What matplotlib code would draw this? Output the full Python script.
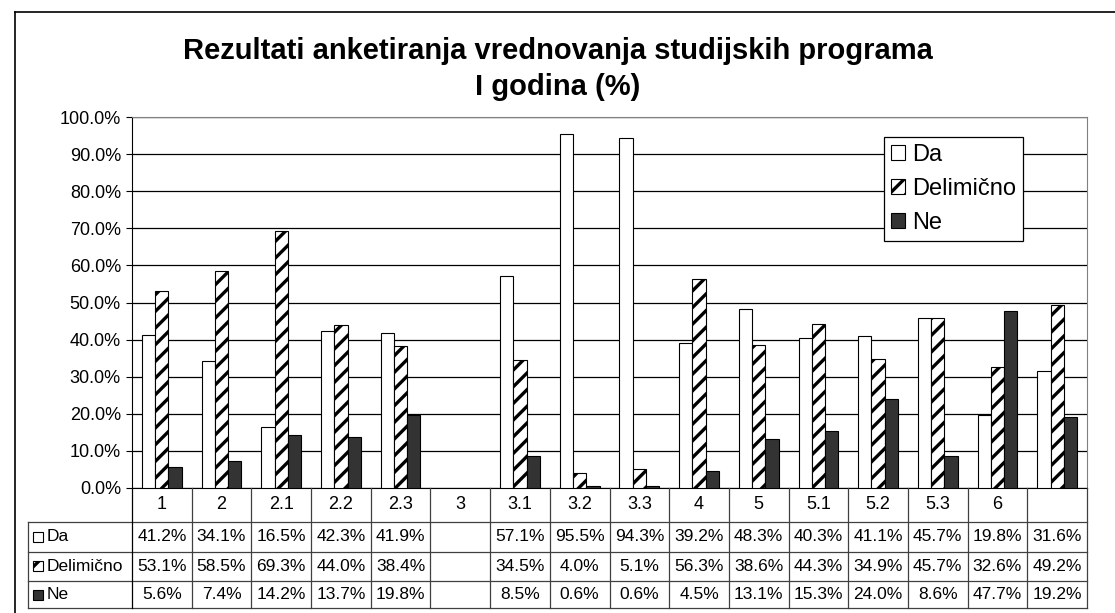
import matplotlib.pyplot as plt
import numpy as np
from matplotlib.patches import Rectangle
from matplotlib.lines import Line2D
from matplotlib.ticker import FuncFormatter

plt.rcParams['font.family'] = ['Liberation Sans', 'DejaVu Sans']
plt.rcParams['hatch.linewidth'] = 2.4

title = 'Rezultati anketiranja vrednovanja studijskih programa\nI godina (%)'
categories = ['1', '2', '2.1', '2.2', '2.3', '3', '3.1', '3.2', '3.3',
              '4', '5', '5.1', '5.2', '5.3', '6', '']
series_names = ['Da', 'Delimično', 'Ne']
da = [41.2, 34.1, 16.5, 42.3, 41.9, np.nan, 57.1, 95.5, 94.3,
      39.2, 48.3, 40.3, 41.1, 45.7, 19.8, 31.6]
delimicno = [53.1, 58.5, 69.3, 44.0, 38.4, np.nan, 34.5, 4.0, 5.1,
             56.3, 38.6, 44.3, 34.9, 45.7, 32.6, 49.2]
ne = [5.6, 7.4, 14.2, 13.7, 19.8, np.nan, 8.5, 0.6, 0.6,
      4.5, 13.1, 15.3, 24.0, 8.6, 47.7, 19.2]

W, H = 1115, 613
fig = plt.figure(figsize=(W / 100, H / 100), dpi=100)

def fx(px):
    return px / W

def fy(py):
    return 1 - py / H

# plot area in pixels
left, right, top, bottom = 132, 1087, 117, 488
ax = fig.add_axes([fx(left), fy(bottom), fx(right - left), (bottom - top) / H])

styles = [
    dict(facecolor='white', edgecolor='black', hatch=None),
    dict(facecolor='white', edgecolor='black', hatch='//'),
    dict(facecolor='#333333', edgecolor='black', hatch=None),
]
values = [da, delimicno, ne]
n = len(categories)
x = np.arange(n) + 0.5
bw = (1 / 1.5) / 3

for k, (name, vals, st) in enumerate(zip(series_names, values, styles)):
    v = np.array(vals) / 100
    ax.bar(x + (k - 1) * bw, v, width=bw, label=name, linewidth=0.8,
           zorder=3, **st)

ax.set_xlim(0, n)
ax.set_ylim(0, 1)
ax.set_yticks(np.arange(0, 1.01, 0.1))
ax.yaxis.set_major_formatter(FuncFormatter(lambda v, p: f'{v * 100:.1f}%'))
ax.tick_params(axis='y', direction='out', length=4, labelsize=13, pad=4)
ax.set_xticks([])
ax.grid(axis='y', color='black', linewidth=0.9, zorder=1)
for s in ['top', 'right']:
    ax.spines[s].set_color('#808080')
ax.spines['left'].set_color('black')
ax.spines['bottom'].set_color('black')

leg = ax.legend(loc='upper right',
                bbox_to_anchor=((1023 - left) / (right - left), (bottom - 137) / (bottom - top)),
                fontsize=17, frameon=True, fancybox=False, framealpha=1,
                edgecolor='black', handlelength=0.6, handleheight=0.6,
                handletextpad=0.3, borderpad=0.3, labelspacing=0.5, borderaxespad=0)
leg.get_frame().set_linewidth(0.9)

# data table
tleft, tbottom = 28, 608
cw = (right - left) / n
ax_t = fig.add_axes([fx(tleft), fy(tbottom), fx(right - tleft), (tbottom - bottom) / H])
ax_t.set_xlim(-(left - tleft) / cw, n)
ax_t.set_ylim(4, 0)
ax_t.axis('off')
x0 = -(left - tleft) / cw
lc = '#404040'
row_edges = [0, 1.13, 2.13, 3.1, 4]
for r in row_edges[1:]:
    ax_t.plot([x0, n], [r, r], color=lc, lw=0.9, clip_on=False)
ax_t.plot([x0, x0], [row_edges[1], 4], color=lc, lw=0.9, clip_on=False)
for c in range(n + 1):
    ax_t.plot([c, c], [0, 4], color='black' if c == 0 else lc, lw=0.9, clip_on=False)

for c, lab in enumerate(categories):
    ax_t.text(c + 0.5, row_edges[1] / 2, lab, ha='center', va='center', fontsize=13)

mk_w, mk_h = 10 / cw, 10 / 30
for r, (name, vals, st) in enumerate(zip(series_names, values, styles)):
    yc = (row_edges[r + 1] + row_edges[r + 2]) / 2
    ax_t.add_patch(Rectangle((x0 + 5 / cw, yc - mk_h / 2), mk_w, mk_h,
                             linewidth=0.8, clip_on=False, **st))
    ax_t.text(x0 + 19 / cw, yc, name, ha='left', va='center', fontsize=12.5)
    for c, v in enumerate(vals):
        if not np.isnan(v):
            ax_t.text(c + 0.5, yc, f'{v:.1f}%', ha='center', va='center', fontsize=12.5)

fig.text(0.5, fy(69), title, ha='center', va='center', fontsize=21,
         fontweight='bold', linespacing=1.35)

# outer chart frame
fig.add_artist(Line2D([fx(15), fx(15)], [0, fy(12)], color='black', lw=1.2))
fig.add_artist(Line2D([fx(15), 1], [fy(12), fy(12)], color='black', lw=1.2))

fig.savefig('out.png', dpi=100)
